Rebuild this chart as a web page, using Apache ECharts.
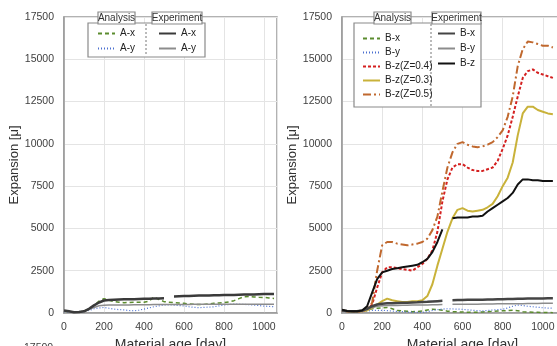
<!DOCTYPE html>
<html>
<head>
<meta charset="utf-8">
<script src="https://cdn.jsdelivr.net/npm/echarts@6/dist/echarts.min.js"></script>
<style>
  html, body { margin: 0; padding: 0; background: #fff; }
  #chart { width: 557px; height: 346px; }
</style>
</head>
<body>
<div id="chart"></div>
<script>
// material age, every 25 days
var days = [0, 25, 50, 75, 100, 125, 150, 175, 200, 225, 250, 275, 300, 325, 350, 375, 400, 425, 450, 475, 500,
  525, 550, 575, 600, 625, 650, 675, 700, 725, 750, 775, 800, 825, 850, 875, 900, 925, 950, 975, 1000, 1025, 1050];

// left chart (A)
var anaAx = [100, 80, 50, 60, 100, 250, 450, 700, 850, 750, 680, 640, 610, 620, 640, 630, 630, 700, 950, 800, 670,
  640, 610, 590, 570, 540, 510, 500, 510, 540, 570, 590, 610, 660, 730, 850, 960, 970, 950, 930, 920, 890, 860];
var anaAy = [80, 60, 40, 50, 80, 150, 250, 300, 330, 280, 230, 200, 180, 150, 130, 170, 230, 300, 370, 420, 470,
  480, 470, 440, 410, 370, 330, 320, 330, 350, 370, 420, 470, 500, 530, 520, 510, 490, 470, 440, 410, 390, 370];
var expAx = [150, 100, 50, 60, 100, 250, 450, 620, 740, 770, 790, 800, 810, 820, 820, 830, 840, 840, 850, 860, 870,
  null, 980, 990, 1000, 1010, 1020, 1030, 1040, 1040, 1050, 1050, 1060, 1060, 1070, 1080, 1090, 1100, 1100, 1110, 1120, 1120, 1130];
var expAy = [120, 80, 40, 50, 100, 200, 330, 430, 460, 470, 470, 480, 480, 480, 490, 490, 490, 490, 500, 500, 500,
  500, 500, 500, 500, 500, 510, 510, 510, 510, 510, 510, 510, 510, 510, 520, 520, 520, 520, 520, 520, 520, 520];

// right chart (B)
var anaBx = [150, 100, 80, 80, 100, 180, 250, 280, 300, 330, 250, 150, 120, 100, 80, 90, 120, 180, 220, 200, 160,
  110, 80, 70, 60, 50, 40, 50, 60, 80, 100, 120, 130, 140, 160, 130, 80, 60, 50, 40, 30, 25, 20];
var anaBy = [100, 80, 60, 60, 80, 120, 150, 160, 160, 140, 110, 90, 80, 60, 50, 45, 40, 80, 150, 200, 230,
  250, 240, 230, 220, 190, 160, 140, 120, 150, 180, 200, 220, 300, 400, 470, 440, 400, 370, 340, 310, 290, 280];
var anaBz4 = [150, 100, 80, 80, 100, 200, 500, 1500, 2400, 2700, 2700, 2650, 2600, 2550, 2500, 2700, 2900, 3200, 3700, 4800, 6600,
  7900, 8600, 8800, 8800, 8600, 8450, 8400, 8400, 8500, 8600, 9000, 9700, 10500, 11600, 12800, 13900, 14300, 14400, 14200, 14100, 14000, 13900];
var anaBz3 = [150, 100, 80, 80, 100, 150, 300, 500, 700, 850, 750, 700, 650, 650, 700, 700, 750, 1000, 1700, 2800, 3800,
  4800, 5600, 6100, 6200, 6050, 6000, 6050, 6100, 6250, 6450, 6900, 7500, 8000, 8900, 10500, 11800, 12200, 12200, 12000, 11900, 11800, 11750];
var anaBz5 = [150, 100, 80, 80, 120, 200, 600, 2500, 4000, 4200, 4200, 4100, 4050, 4000, 4050, 4100, 4200, 4400, 4900, 5700, 7200,
  8600, 9500, 10000, 10100, 9950, 9850, 9800, 9850, 9950, 10100, 10400, 10800, 11600, 12800, 14600, 15600, 16050, 16000, 15900, 15800, 15800, 15700];
var expBx = [150, 120, 100, 100, 150, 250, 400, 500, 550, 570, 580, 590, 600, 610, 620, 630, 650, 660, 680, 700, 720,
  null, 760, 770, 770, 780, 780, 790, 790, 800, 800, 810, 820, 830, 830, 840, 840, 850, 850, 860, 860, 870, 870];
var expBy = [120, 90, 70, 70, 100, 200, 330, 400, 430, 440, 450, 450, 460, 460, 470, 470, 480, 480, 490, 490, 500,
  null, 510, 510, 510, 520, 520, 520, 530, 530, 530, 540, 540, 540, 550, 550, 550, 560, 560, 560, 570, 570, 570];
var expBz = [200, 120, 100, 100, 150, 400, 1200, 2000, 2400, 2500, 2600, 2650, 2700, 2750, 2800, 2850, 3000, 3200, 3600, 4200, 4950,
  null, 5600, 5650, 5650, 5650, 5700, 5700, 5750, 6000, 6200, 6400, 6600, 6800, 7100, 7600, 7900, 7900, 7850, 7850, 7800, 7800, 7800];

function pairs(vals) {
  return days.map(function (d, i) { return [d, vals[i]]; });
}

var GREEN = '#5b8c2e', BLUE = '#4a6fd0', RED = '#d42020', YELLOW = '#c9b23a', BROWN = '#c0682e';
var font = 'Liberation Sans';

function line(name, idx, vals, color, width, type) {
  return {
    name: name, type: 'line', xAxisIndex: idx, yAxisIndex: idx,
    data: pairs(vals), showSymbol: false, symbol: 'none', connectNulls: false,
    lineStyle: { color: color, width: width, type: type },
    itemStyle: { color: color }
  };
}

function plain(v) { return String(v); }

function xAxis(idx, max) {
  return {
    type: 'value', gridIndex: idx, min: 0, max: max, interval: 200,
    name: 'Material age [day]', nameLocation: 'middle', nameGap: 10,
    nameTextStyle: { fontFamily: font, fontSize: 14, color: '#333' },
    axisLine: { show: true, lineStyle: { color: '#999', width: 1.5 } },
    axisTick: { show: false },
    axisLabel: { showMaxLabel: false, margin: 9, fontFamily: font, fontSize: 10.5, color: '#404040', formatter: plain },
    splitLine: { show: true, lineStyle: { color: '#e4e4e4' } }
  };
}

function yAxis(idx) {
  return {
    type: 'value', gridIndex: idx, min: 0, max: 17500, interval: 2500,
    name: 'Expansion [\u03bc]', nameLocation: 'middle', nameGap: 40, nameRotate: 90,
    nameTextStyle: { fontFamily: font, fontSize: 13, color: '#333' },
    axisLine: { show: true, lineStyle: { color: '#999', width: 1.5 } },
    axisTick: { show: false },
    axisLabel: { margin: 10, fontFamily: font, fontSize: 10.5, color: '#404040', formatter: plain },
    splitLine: { show: true, lineStyle: { color: '#e4e4e4' } }
  };
}

function legend(names, left, top, gap) {
  return {
    data: names, orient: 'vertical', left: left, top: top, itemGap: gap,
    itemWidth: 17, itemHeight: 8, padding: 0, z: 100,
    selectedMode: false,
    itemStyle: { opacity: 0 },
    formatter: function (n) { return n.split(':')[1]; },
    textStyle: { fontFamily: font, fontSize: 10, color: '#222', lineHeight: 13 }
  };
}

function headerBox(x, w, label) {
  return [
    { type: 'rect', z: 90, shape: { x: x, y: 12, width: w, height: 12 },
      style: { fill: '#fff', stroke: '#8a8a8a', lineWidth: 1.2 } },
    { type: 'text', z: 91, x: x + w / 2, y: 18,
      style: { text: label, fontFamily: font, fontSize: 10, fill: '#333', align: 'center', verticalAlign: 'middle' } }
  ];
}

var chart = echarts.init(document.getElementById('chart'), null, { renderer: 'canvas' });

var option = {
  animation: false,
  grid: [
    { left: 64, top: 17, width: 213, bottom: 33, outerBoundsMode: 'none', containLabel: false,
      show: true, borderColor: '#999', borderWidth: 1.5 },
    { left: 342, top: 17, width: 241, bottom: 33, outerBoundsMode: 'none', containLabel: false,
      show: true, borderColor: '#999', borderWidth: 1.5 }
  ],
  xAxis: [xAxis(0, 1065), xAxis(1, 1200)],
  yAxis: [yAxis(0), yAxis(1)],
  legend: [
    legend(['ana:A-x', 'ana:A-y'], 97, 27, 2),
    legend(['exp:A-x', 'exp:A-y'], 158, 27, 2),
    legend(['ana:B-x', 'ana:B-y', 'ana:B-z(Z=0.4)', 'ana:B-z(Z=0.3)', 'ana:B-z(Z=0.5)'], 362, 32, 1),
    legend(['exp:B-x', 'exp:B-y', 'exp:B-z'], 437, 27, 2)
  ],
  graphic: [
    { type: 'rect', z: 80, shape: { x: 88, y: 23, width: 117, height: 34 },
      style: { fill: '#fff', stroke: '#8a8a8a', lineWidth: 1.2 } },
    { type: 'line', z: 81, shape: { x1: 146, y1: 24, x2: 146, y2: 56 },
      style: { stroke: '#777', lineWidth: 1, lineDash: [2, 2] } },
    { type: 'rect', z: 80, shape: { x: 354, y: 23, width: 127, height: 84 },
      style: { fill: '#fff', stroke: '#8a8a8a', lineWidth: 1.2 } },
    { type: 'line', z: 81, shape: { x1: 431, y1: 24, x2: 431, y2: 106 },
      style: { stroke: '#777', lineWidth: 1, lineDash: [2, 2] } },
    { type: 'text', z: 91, x: 24, y: 343,
      style: { text: '17500', fontFamily: font, fontSize: 10.5, fill: '#404040' } }
  ].concat(
    headerBox(98, 37, 'Analysis'), headerBox(152, 50, 'Experiment'),
    headerBox(374, 37, 'Analysis'), headerBox(432, 49, 'Experiment')
  ),
  series: [
    line('ana:A-x', 0, anaAx, GREEN, 1.5, [4, 3]),
    line('ana:A-y', 0, anaAy, BLUE, 1.2, [1, 2]),
    line('exp:A-y', 0, expAy, '#8c8c8c', 1.5, 'solid'),
    line('exp:A-x', 0, expAx, '#3a3a3a', 2.5, 'solid'),

    line('ana:B-x', 1, anaBx, GREEN, 1.5, [4, 3]),
    line('ana:B-y', 1, anaBy, BLUE, 1.2, [1, 2]),
    line('ana:B-z(Z=0.4)', 1, anaBz4, RED, 2, [3, 2]),
    line('ana:B-z(Z=0.3)', 1, anaBz3, YELLOW, 2, 'solid'),
    line('ana:B-z(Z=0.5)', 1, anaBz5, BROWN, 2, [8, 3, 2, 3]),
    line('exp:B-y', 1, expBy, '#8c8c8c', 1.5, 'solid'),
    line('exp:B-x', 1, expBx, '#444', 2.5, 'solid'),
    line('exp:B-z', 1, expBz, '#111', 2, 'solid')
  ]
};

chart.setOption(option);
</script>
</body>
</html>
